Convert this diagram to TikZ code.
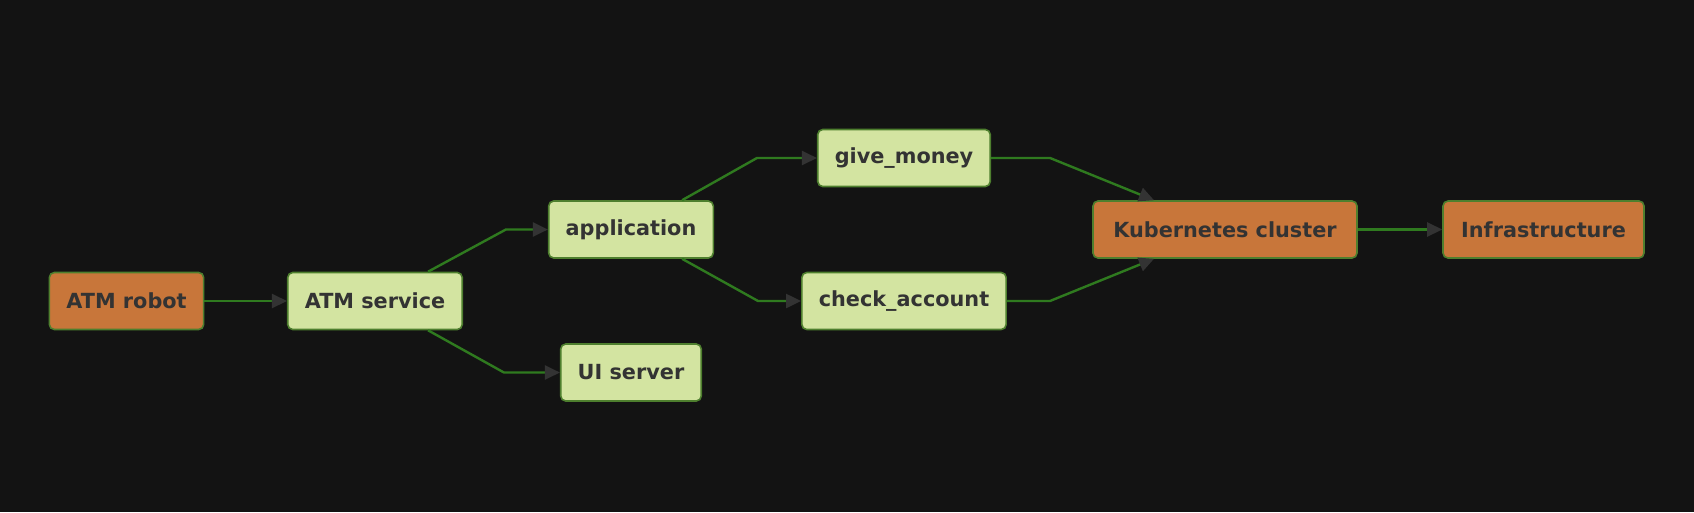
\documentclass[tikz,border=0pt]{standalone}
\usepackage{fontspec}
\setmainfont{DejaVu Sans}
\usetikzlibrary{arrows.meta}

\definecolor{bgdark}{HTML}{131313}
\definecolor{infraorange}{HTML}{C8763A}
\definecolor{svcgreen}{HTML}{D3E4A1}
\definecolor{rimgreen}{HTML}{4E7F2E}
\definecolor{linkgreen}{HTML}{2F7A1F}
\definecolor{inkgray}{HTML}{333333}

\tikzset{
  box/.style={draw=rimgreen, line width=1.6pt, rounded corners=5pt, minimum height=57pt,
    inner xsep=17pt, text=inkgray, font=\bfseries\fontsize{20.8}{24}\selectfont},
  infra/.style={box, fill=infraorange},
  svc/.style={box, fill=svcgreen},
  link/.style={draw=linkgreen, line width=2.4pt,
    -{Triangle[length=15pt,width=14pt,color=inkgray]}}
}

\begin{document}
\begin{tikzpicture}[x=1pt,y=-1pt]
\fill[bgdark] (0,0) rectangle (1694,512);
\useasboundingbox (0,0) rectangle (1694,512);

\node[infra] (robot) at (126.5,301) {ATM robot};
\node[svc] (atmsvc) at (375,301) {ATM service};
\node[svc] (app) at (631,229.5) {application};
\node[svc] (ui) at (631,372.5) {UI server};
\node[svc] (money) at (904,158) {give\_money};
\node[svc] (check) at (904,301) {check\_account};
\node[infra, minimum width=264pt] (kube) at (1225,229.5) {Kubernetes cluster};
\node[infra, minimum width=201pt] (infrastr) at (1543.5,229.5) {Infrastructure};

\draw[link] (robot) -- (atmsvc);
\draw[link] ([xshift=-35pt]atmsvc.north east) -- ([xshift=-42pt]app.west) -- (app.west);
\draw[link] ([xshift=-35pt]atmsvc.south east) -- ([xshift=-56pt]ui.west) -- (ui.west);
\draw[link] ([xshift=-32pt]app.north east) -- ([xshift=-60pt]money.west) -- (money.west);
\draw[link] ([xshift=-32pt]app.south east) -- ([xshift=-43pt]check.west) -- (check.west);
\draw[link] (money.east) -- ++(59,0) -- ([xshift=-71pt]kube.north);
\draw[link] (check.east) -- ++(43,0) -- ([xshift=-71pt]kube.south);
\draw[link] (kube) -- (infrastr);
\end{tikzpicture}
\end{document}
